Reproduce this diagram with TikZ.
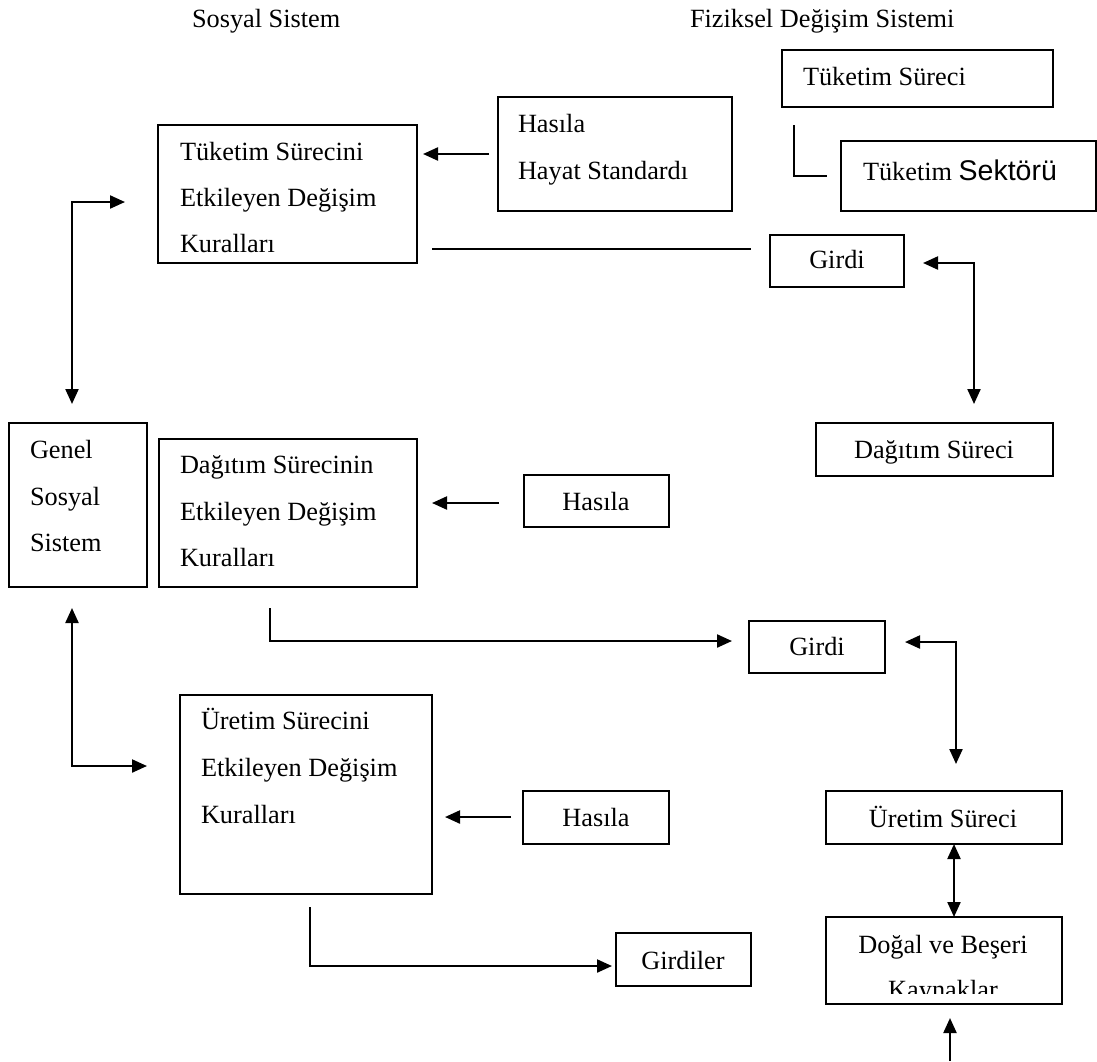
\documentclass[tikz,border=0pt]{standalone}
\usepackage{fontspec}
\setmainfont{Liberation Serif}
\newfontfamily\arialf{Liberation Sans}
\usetikzlibrary{arrows.meta,calc}
\begin{document}
\begin{tikzpicture}[x=1pt,y=-1pt,
  box/.style={draw,line width=1.6pt,inner sep=0pt,outer sep=0pt,anchor=north west},
  txt/.style={inner sep=0pt,outer sep=0pt,font=\fontsize{26.3}{30}\selectfont},
  tl/.style={txt,anchor=base west},
  tc/.style={txt,anchor=base},
  arr/.style={line width=2.2pt,-{Triangle[length=15pt,width=13pt]}},
  arrb/.style={line width=2.2pt,{Triangle[length=15pt,width=13pt]}-{Triangle[length=15pt,width=13pt]}},
  ln/.style={line width=1.3pt}]
\fill[white] (0,0) rectangle (1097,1061);
\useasboundingbox (0,0) rectangle (1097,1061);

% headers
\node[tl] (hdr1) at (192,27) {Sosyal Sistem};
\node[tl] (hdr2) at (690,27) {Fiziksel Değişim Sistemi};

% boxes
\node[box,minimum width=271pt,minimum height=57pt] (ts) at (782,50) {};
\node[box,minimum width=255pt,minimum height=70pt] (tsek) at (841,141) {};
\node[box,minimum width=234pt,minimum height=114pt] (hh) at (498,97) {};
\node[box,minimum width=259pt,minimum height=138pt] (tk) at (158,125) {};
\node[box,minimum width=134pt,minimum height=52pt] (g1) at (770,235) {};
\node[box,minimum width=237pt,minimum height=53pt] (ds) at (816,423) {};
\node[box,minimum width=138pt,minimum height=164pt] (gen) at (9,423) {};
\node[box,minimum width=258pt,minimum height=148pt] (dk) at (159,439) {};
\node[box,minimum width=145pt,minimum height=52pt] (h2) at (524,475) {};
\node[box,minimum width=136pt,minimum height=52pt] (g2) at (749,621) {};
\node[box,minimum width=252pt,minimum height=199pt] (uk) at (180,695) {};
\node[box,minimum width=146pt,minimum height=53pt] (h3) at (523,791) {};
\node[box,minimum width=236pt,minimum height=53pt] (us) at (826,791) {};
\node[box,minimum width=135pt,minimum height=53pt] (gl) at (616,933) {};
\node[box,minimum width=236pt,minimum height=87pt] (dbk) at (826,917) {};

% texts
\node[tl] (tsT) at (803,85) {Tüketim Süreci};
\node[tl] (tsekT) at (863,180) {Tüketim {\arialf\fontsize{28.5}{30}\selectfont Sektörü}};
\node[tl] (hhT1) at (518,132) {Hasıla};
\node[tl] (hhT2) at (518,179) {Hayat Standardı};
\node[tl] (tkT1) at (180,160) {Tüketim Sürecini};
\node[tl] (tkT2) at (180,206) {Etkileyen Değişim};
\node[tl] (tkT3) at (180,252) {Kuralları};
\node[tc] (g1T) at (837,268) {Girdi};
\node[tc] (dsT) at (934,458) {Dağıtım Süreci};
\node[tl] (genT1) at (30,458) {Genel};
\node[tl] (genT2) at (30,505) {Sosyal};
\node[tl] (genT3) at (30,551) {Sistem};
\node[tl] (dkT1) at (180,473) {Dağıtım Sürecinin};
\node[tl] (dkT2) at (180,520) {Etkileyen Değişim};
\node[tl] (dkT3) at (180,566) {Kuralları};
\node[tc] (h2T) at (596,510) {Hasıla};
\node[tc] (g2T) at (817,655) {Girdi};
\node[tl] (ukT1) at (201,729) {Üretim Sürecini};
\node[tl] (ukT2) at (201,776) {Etkileyen Değişim};
\node[tl] (ukT3) at (201,823) {Kuralları};
\node[tc] (h3T) at (596,826) {Hasıla};
\node[tc] (usT) at (943,827) {Üretim Süreci};
\node[tc] (glT) at (683,969) {Girdiler};
\node[tc] (dbkT1) at (943,953) {Doğal ve Beşeri};
\begin{scope}
\clip (827,918) rectangle (1061,993);
\node[tc] (dbkT2) at (943,998) {Kaynaklar};
\end{scope}

% connectors
\draw[ln] ($(ts.south west)+(12,18)$) |- ($(tsek.west |- 0,176)+(-14,0)$);
\draw[arr,shorten <=9pt,shorten >=6pt] (hh.west |- 0,154) -- (tk.east |- 0,154);
\draw[ln,shorten <=15pt,shorten >=19pt] (tk.east |- 0,249) -- (g1.west |- 0,249);
\draw[arrb] ($(g1.east |- 0,263)+(19,0)$) -| ($(ds.north west)+(158,-19)$);
\draw[arrb] ($(tk.west |- 0,202)+(-33,0)$) -| ($(gen.north west)+(63,-19)$);
\draw[arr,shorten <=25pt,shorten >=15pt] (h2.west |- 0,503) -- (dk.east |- 0,503);
\draw[arr] ($(dk.south west)+(111,21)$) |- ($(g2.west |- 0,641)+(-17,0)$);
\draw[arrb] ($(g2.east |- 0,642)+(20,0)$) -| ($(us.north west)+(130,-27)$);
\draw[arrb] ($(gen.south west)+(63,21)$) |- ($(uk.west |- 0,766)+(-33,0)$);
\draw[arr,shorten <=12pt,shorten >=13pt] (h3.west |- 0,817) -- (uk.east |- 0,817);
\draw[arr] ($(uk.south west)+(130,13)$) |- ($(gl.west |- 0,966)+(-4,0)$);
\draw[arrb] (us.south -| 954,0) -- (dbk.north -| 954,0);
\coordinate (bot) at (950,1061);
\draw[arr] (bot) -- ($(dbk.south -| 950,0)+(0,14)$);
\end{tikzpicture}
\end{document}
